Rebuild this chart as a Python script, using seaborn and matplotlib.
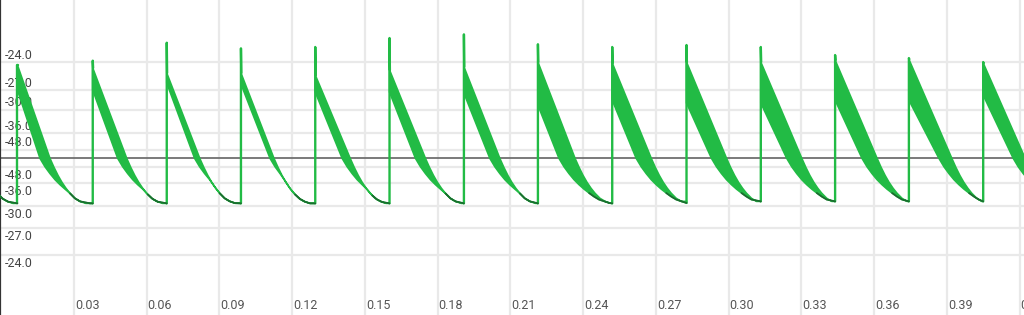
import numpy as np
import pandas as pd
import matplotlib
matplotlib.use("Agg")
import matplotlib.pyplot as plt
import seaborn as sns
from matplotlib.transforms import ScaledTranslation

# ---------------- data ----------------
# onset time of each pulse (s); first one is the off-screen pulse whose tail is visible,
# last one is the off-screen pulse that ends the final cycle
onset_s = [-0.02394, 0.00670, 0.03775, 0.06827, 0.09887, 0.12951, 0.16014, 0.19082,
           0.22134, 0.25198, 0.28262, 0.31326, 0.34390, 0.37433, 0.40497, 0.43561]
# spike peak amplitude at each onset
spike_amp = [0.0613, 0.0613, 0.0642, 0.0760, 0.0723, 0.0732, 0.0791, 0.0815,
             0.0750, 0.0732, 0.0745, 0.0732, 0.0679, 0.0659, 0.0633]
# upper / lower edge of the wave band right after the spike
band_hi_amp = [0.0613, 0.0613, 0.0594, 0.0561, 0.0561, 0.0548, 0.0581, 0.0602,
               0.0633, 0.0627, 0.0633, 0.0633, 0.0646, 0.0651, 0.0627]
band_lo_amp = [0.0449, 0.0449, 0.0449, 0.0495, 0.0489, 0.0436, 0.0436, 0.0429,
               0.0350, 0.0383, 0.0364, 0.0364, 0.0383, 0.0383, 0.0416]
# time after onset (ms) where each edge crosses zero
hi_cross_ms = [14.0, 13.4, 14.0, 13.6, 13.6, 14.4, 14.8, 14.8, 15.3, 16.1, 16.5, 16.9, 17.3, 17.7, 17.3]
lo_cross_ms = [10.3, 9.3, 10.3, 11.5, 12.0, 11.1, 10.7, 10.7, 8.7, 9.9, 10.3, 10.7, 11.1, 12.4, 12.4]
# shape of the edges below zero: (ms after zero crossing, amplitude)
hi_tail_ms = [0.0, 1.65, 3.3, 4.95, 6.6, 8.25, 10.3, 12.4, 14.8, 18.6]
hi_tail_amp = [0.0, -0.0059, -0.0112, -0.0158, -0.0197, -0.0230, -0.0263, -0.0283, -0.0296, -0.0302]
lo_tail_ms = [0.0, 2.06, 4.12, 6.19, 8.25, 10.3, 12.4, 14.4, 16.5, 20.6, 24.7]
lo_tail_amp = [0.0, -0.0055, -0.0100, -0.0140, -0.0173, -0.0202, -0.0228, -0.0251, -0.0271, -0.0293, -0.0302]

# axis ticks
xtick_s = [0.03, 0.06, 0.09, 0.12, 0.15, 0.18, 0.21, 0.24, 0.27, 0.30, 0.33, 0.36, 0.39, 0.42]
xtick_labels = ["0.03", "0.06", "0.09", "0.12", "0.15", "0.18", "0.21", "0.24", "0.27",
                "0.30", "0.33", "0.36", "0.39", "0.42"]
ytick_amp = [0.0633, 0.0449, 0.0318, 0.0166, 0.0055, -0.0057, -0.0162, -0.0314, -0.0455, -0.0636]
ytick_labels = ["-24.0", "-27.0", "-30.0", "-36.0", "-48.0", "-48.0", "-36.0", "-30.0", "-27.0", "-24.0"]

GREEN = "#22bb45"
DARK = "#1a5f2c"

# ---------------- figure ----------------
sns.set_theme(style="white")
plt.rcParams["font.family"] = ["Roboto", "DejaVu Sans"]

fig = plt.figure(figsize=(10.24, 3.15), dpi=100)
ax = fig.add_axes([0, 0, 1, 1])
ax.set_xlim(-0.0005, 0.4218)
ax.set_ylim(-0.1030, 0.1041)


def edge(t0, period, start, cross_ms, tail_ms, tail_amp):
    ts = [0.0] + [cross_ms / 1000 + o / 1000 for o in tail_ms]
    ys = [start] + list(tail_amp)
    out_t, out_y = [], []
    for t, y in zip(ts, ys):
        if t < period:
            out_t.append(t0 + t)
            out_y.append(y)
    out_t.append(t0 + period)
    out_y.append(out_y[-1])
    return out_t, out_y


rise_rows, dark_rows = [], []
prev_end = None
for k in range(len(onset_s) - 1):
    t0 = onset_s[k]
    period = onset_s[k + 1] - t0
    ut, uy = edge(t0, period, band_hi_amp[k], hi_cross_ms[k], hi_tail_ms, hi_tail_amp)
    lt, ly = edge(t0, period, band_lo_amp[k], lo_cross_ms[k], lo_tail_ms, lo_tail_amp)
    ly = [min(a, b) for a, b in zip(ly, np.interp(lt, ut, uy))]
    ax.fill(ut + lt[::-1], uy + ly[::-1], facecolor=GREEN, edgecolor=GREEN,
            linewidth=1.2, zorder=3)
    start_y = prev_end if prev_end is not None else ly[0]
    rise_rows += [(k, t0, start_y), (k, t0, spike_amp[k]), (k, t0 + 0.00015, uy[0])]
    for t, y in zip(lt[1:], ly[1:]):
        if y < -0.021:
            dark_rows.append((k, t, y))
    prev_end = ly[-1]

rise_df = pd.DataFrame(rise_rows, columns=["seg", "t", "amp"])
dark_df = pd.DataFrame(dark_rows, columns=["seg", "t", "amp"])
sns.lineplot(data=rise_df, x="t", y="amp", units="seg", estimator=None, sort=False,
             color=GREEN, lw=1.7, ax=ax, zorder=4)
sns.lineplot(data=dark_df, x="t", y="amp", units="seg", estimator=None, sort=False,
             color=DARK, lw=1.3, ax=ax, zorder=4, alpha=0.85)

# center line
ax.axhline(0, color="#707070", lw=1.3, zorder=2)

# grid & ticks
ax.set_xticks(xtick_s, labels=xtick_labels)
ax.set_yticks(ytick_amp, labels=ytick_labels)
ax.grid(True, color="#e9e9e9", lw=1.6, zorder=0)
ax.set_axisbelow(True)
ax.set_xlabel("")
ax.set_ylabel("")
ax.tick_params(axis="x", length=0, pad=-4.3, labelsize=9, labelcolor="#555555")
ax.tick_params(axis="y", length=0, pad=-3.6, labelsize=9, labelcolor="#444444")
for sp in ["top", "right", "bottom"]:
    ax.spines[sp].set_visible(False)
ax.spines["left"].set_color("#333333")
ax.spines["left"].set_linewidth(1.6)

for lbl in ax.get_xticklabels():
    lbl.set_ha("left")
    lbl.set_va("baseline")
    lbl.set_transform(lbl.get_transform() + ScaledTranslation(0.01, 0, fig.dpi_scale_trans))
for lbl, v in zip(ax.get_yticklabels(), ytick_amp):
    lbl.set_ha("left")
    lbl.set_va("baseline")
    dy = 0.035 if v > 0 else -0.12
    lbl.set_transform(lbl.get_transform() + ScaledTranslation(0, dy, fig.dpi_scale_trans))

fig.savefig("out.png", dpi=100)
